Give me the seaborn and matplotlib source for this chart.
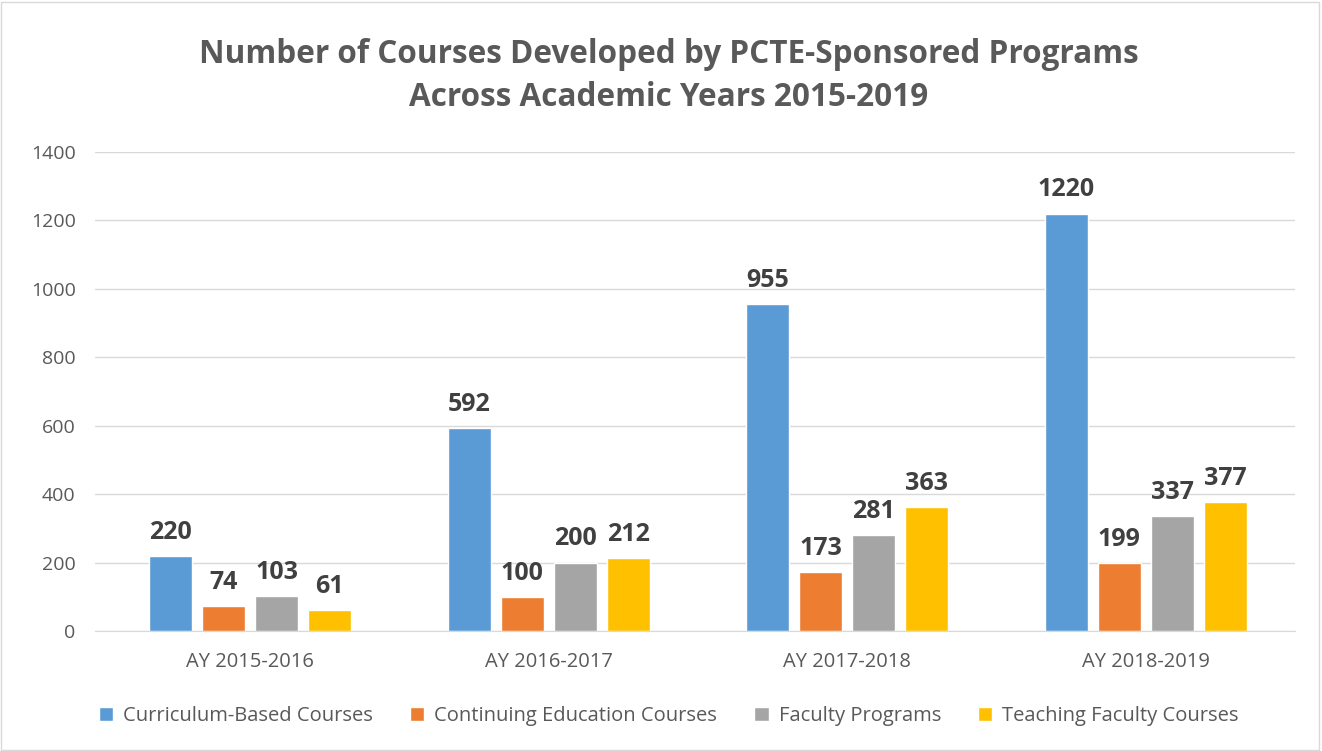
import pandas as pd
import matplotlib.pyplot as plt
import seaborn as sns


years = ['AY 2015-2016', 'AY 2016-2017', 'AY 2017-2018', 'AY 2018-2019']
programs = ['Curriculum-Based Courses', 'Continuing Education Courses',
            'Faculty Programs', 'Teaching Faculty Courses']
curriculum = [220, 592, 955, 1220]
continuing = [74, 100, 173, 199]
faculty = [103, 200, 281, 337]
teaching = [61, 212, 363, 377]
palette = ['#5B9BD5', '#ED7D31', '#A5A5A5', '#FFC000']


def main():
    rows = []
    for prog, vals in zip(programs, [curriculum, continuing, faculty, teaching]):
        for yr, v in zip(years, vals):
            rows.append({'year': yr, 'program': prog, 'count': v})
    df = pd.DataFrame(rows)

    sns.set_style('white')
    plt.rcParams['font.family'] = ['Open Sans', 'DejaVu Sans']

    fig = plt.figure(figsize=(13.22, 7.51), dpi=100)
    ax = fig.add_axes([0.0719, 0.1598, 0.9077, 0.6378])
    sns.barplot(data=df, x='year', y='count', hue='program', order=years,
                hue_order=programs, palette=palette, width=0.71, gap=0.19,
                saturation=1, ax=ax, legend=True)

    for cont in ax.containers:
        ax.bar_label(cont, padding=8, fontsize=18, fontweight='bold',
                     color='#404040')

    ax.set_ylim(0, 1400)
    ax.set_xlim(-0.52, 3.5)
    ax.set_yticks(range(0, 1401, 200))
    ax.yaxis.grid(True, color='#d9d9d9', linewidth=1)
    ax.set_axisbelow(True)
    for side in ['top', 'right', 'left']:
        ax.spines[side].set_visible(False)
    ax.spines['bottom'].set_color('#d9d9d9')
    ax.tick_params(axis='y', length=0, pad=14, labelsize=14,
                   labelcolor='#595959')
    ax.tick_params(axis='x', length=0, pad=15, labelsize=14.5,
                   labelcolor='#595959')
    ax.set_xlabel('')
    ax.set_ylabel('')

    handles, labels = ax.get_legend_handles_labels()
    ax.get_legend().remove()
    fig.legend(handles, labels, loc='center', bbox_to_anchor=(0.506, 0.046),
               ncol=4, frameon=False, fontsize=14.5, handlelength=0.7,
               handleheight=0.7, columnspacing=1.85, handletextpad=0.5,
               labelcolor='#595959')

    fig.suptitle('Number of Courses Developed by PCTE-Sponsored Programs\n'
                 'Across Academic Years 2015-2019', x=0.506, y=0.95,
                 fontsize=22.7, fontweight='bold', color='#595959',
                 linespacing=1.4)

    fig.patches.append(plt.Rectangle((0.001, 0.001), 0.997, 0.997,
                                     transform=fig.transFigure, fill=False,
                                     edgecolor='#d9d9d9', linewidth=1))
    fig.savefig('out.png', dpi=100)
    plt.close('all')


if __name__ == '__main__':
    main()
